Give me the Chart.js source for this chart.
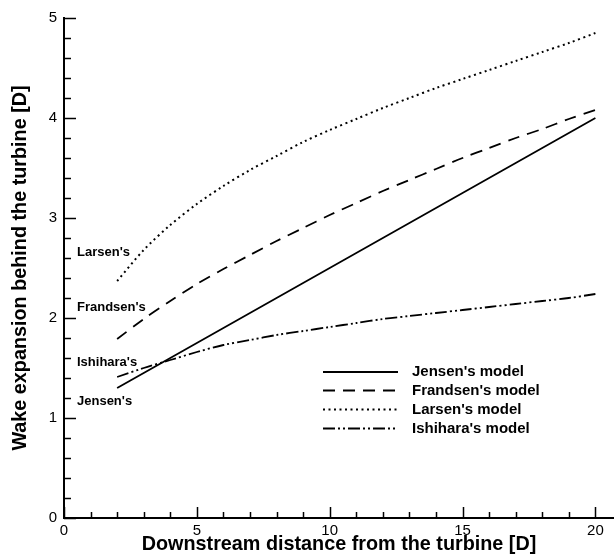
<!DOCTYPE html>
<html>
<head>
<meta charset="utf-8">
<script src="https://cdn.jsdelivr.net/npm/chart.js@4.4.1/dist/chart.umd.min.js"></script>
<style>
  html, body { margin: 0; padding: 0; background: #fff; }
  #wrap { width: 614px; height: 556px; }
</style>
</head>
<body>
<div id="wrap"><canvas id="wakeChart" width="614" height="556"></canvas></div>
<script>
// === Wake expansion models vs downstream distance ===

const distance = [2, 3, 4, 5, 6, 7, 8, 9, 10, 11, 12, 13, 14, 15, 16, 17, 18, 19, 20];
const jensen    = [1.30, 1.45, 1.60, 1.75, 1.90, 2.05, 2.20, 2.35, 2.50, 2.65, 2.80, 2.95, 3.10, 3.25, 3.40, 3.55, 3.70, 3.85, 4.00];
const frandsen  = [1.79, 1.99, 2.17, 2.34, 2.49, 2.63, 2.77, 2.90, 3.03, 3.15, 3.27, 3.38, 3.49, 3.60, 3.70, 3.80, 3.89, 3.99, 4.08];
const larsen    = [2.37, 2.68, 2.93, 3.14, 3.32, 3.48, 3.62, 3.76, 3.88, 3.99, 4.10, 4.20, 4.30, 4.39, 4.48, 4.57, 4.66, 4.75, 4.85];
const ishihara  = [1.41, 1.50, 1.58, 1.66, 1.73, 1.78, 1.83, 1.87, 1.91, 1.95, 1.99, 2.02, 2.05, 2.08, 2.11, 2.14, 2.17, 2.20, 2.24];

const xTicks = [0, 5, 10, 15, 20];
const yTicks = [0, 1, 2, 3, 4, 5];
const seriesNames = ["Jensen's model", "Frandsen's model", "Larsen's model", "Ishihara's model"];
const curveLabels = ["Larsen's", "Frandsen's", "Ishihara's", "Jensen's"];
const curveLabelY = [2.66, 2.11, 1.56, 1.17];

const FONT = "'Liberation Sans', Arial, Helvetica, sans-serif";
const dashes = [[], [12, 8], [2, 3.5], [12, 3, 2, 3, 2, 3]];

function toPoints(ys) {
  return distance.map((x, i) => ({ x: x, y: ys[i] }));
}

const datasets = [jensen, frandsen, larsen, ishihara].map((ys, i) => ({
  label: seriesNames[i],
  data: toPoints(ys),
  borderColor: "#000",
  borderWidth: i === 2 ? 2 : 1.8,
  borderDash: dashes[i],
  pointRadius: 0,
  tension: 0.3,
  fill: false
}));

// inward ticks, curve labels and the legend
const decorations = {
  id: "decorations",
  afterDraw(chart) {
    const { ctx, chartArea, scales } = chart;
    const xs = scales.x, ys = scales.y;
    ctx.save();
    ctx.strokeStyle = "#000";
    ctx.lineWidth = 1.5;
    ctx.beginPath();
    for (let v = 0; v <= 20; v++) {
      const px = Math.round(xs.getPixelForValue(v)) + 0.5;
      const len = v % 5 === 0 ? 11 : 6;
      ctx.moveTo(px, chartArea.bottom);
      ctx.lineTo(px, chartArea.bottom - len);
    }
    for (let k = 0; k <= 25; k++) {
      const py = Math.round(ys.getPixelForValue(k / 5)) + 0.5;
      const len = k % 5 === 0 ? 12 : 7;
      ctx.moveTo(chartArea.left, py);
      ctx.lineTo(chartArea.left + len, py);
    }
    ctx.stroke();

    // curve name labels at the left
    ctx.fillStyle = "#000";
    ctx.font = "bold 13px " + FONT;
    ctx.textAlign = "left";
    ctx.textBaseline = "middle";
    curveLabels.forEach((t, i) => {
      ctx.fillText(t, chartArea.left + 13, ys.getPixelForValue(curveLabelY[i]));
    });

    // legend
    const lx0 = chartArea.left + 259, lx1 = chartArea.left + 334, tx = chartArea.left + 348;
    const rowY = [372, 390.5, 409.5, 428.5];
    ctx.font = "bold 15px " + FONT;
    datasets.forEach((ds, i) => {
      ctx.lineWidth = ds.borderWidth;
      ctx.setLineDash(ds.borderDash);
      ctx.beginPath();
      ctx.moveTo(lx0, rowY[i]);
      ctx.lineTo(lx1, rowY[i]);
      ctx.stroke();
      ctx.setLineDash([]);
      ctx.fillText(ds.label, tx, rowY[i]);
    });
    ctx.restore();
  }
};

new Chart(document.getElementById("wakeChart").getContext("2d"), {
  type: "line",
  data: { datasets: datasets },
  options: {
    responsive: false,
    animation: false,
    layout: { padding: { top: 18, right: 0, left: 0, bottom: 0 } },
    plugins: {
      legend: { display: false },
      tooltip: { enabled: false }
    },
    scales: {
      x: {
        type: "linear",
        min: 0,
        max: 20.7,
        afterBuildTicks: (s) => { s.ticks = xTicks.map(v => ({ value: v })); },
        afterFit: (s) => { s.height = 38; },
        grid: { display: false, drawTicks: false },
        border: { display: true, color: "#000", width: 2 },
        ticks: { color: "#000", font: { family: FONT, size: 15 }, padding: 4, maxRotation: 0 },
        title: {
          display: true,
          text: "Downstream distance from the turbine [D]",
          color: "#000",
          font: { family: FONT, size: 19.8, weight: "bold" },
          padding: { top: 0, bottom: 0 }
        }
      },
      y: {
        type: "linear",
        min: 0,
        max: 5,
        afterBuildTicks: (s) => { s.ticks = yTicks.map(v => ({ value: v })); },
        afterFit: (s) => { s.width = 64; },
        grid: { display: false, drawTicks: false },
        border: { display: true, color: "#000", width: 2 },
        ticks: { color: "#000", font: { family: FONT, size: 15 }, padding: 7 },
        title: {
          display: true,
          text: "Wake expansion behind the turbine [D]",
          color: "#000",
          font: { family: FONT, size: 19.8, weight: "bold" },
          padding: { top: 9, bottom: 0 }
        }
      }
    }
  },
  plugins: [decorations]
});
</script>
</body>
</html>
